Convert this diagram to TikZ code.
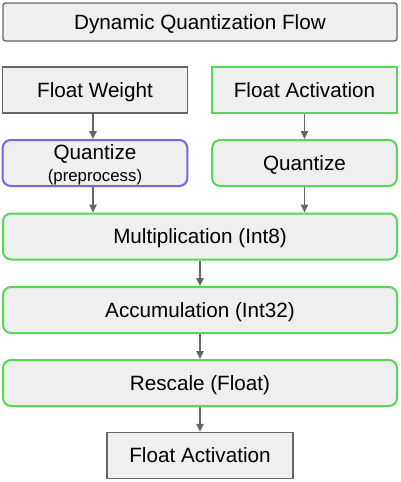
\documentclass[tikz,border=0pt]{standalone}
\usepackage{fontspec}
\setmainfont{Liberation Sans}
\usetikzlibrary{arrows.meta}
\definecolor{boxfill}{HTML}{EFEFEF}
\definecolor{boxgray}{HTML}{666666}
\definecolor{boxgreen}{HTML}{55D955}
\definecolor{boxpurple}{HTML}{7B63E6}
\begin{document}
\begin{tikzpicture}[x=0.75pt,y=-0.75pt]
		\tikzset{stage/.style={draw=boxgray,fill=boxfill,line width=1pt,inner sep=0pt,text depth=0pt,
				minimum height=34.5pt,font=\fontsize{15.5}{17}\selectfont,align=center}}
		\tikzset{wide/.style={minimum width=295.5pt}}
		\tikzset{half/.style={minimum width=138.5pt}}
		\tikzset{green/.style={draw=boxgreen,line width=1.5pt}}
		\tikzset{round/.style={rounded corners=6pt}}
		\tikzset{flow/.style={draw=boxgray,line width=1.2pt,-{Triangle[length=6pt,width=5.5pt]}}}
		\useasboundingbox[fill=white] (0,0) rectangle (400,482);
		\node[stage,wide,rounded corners=2pt,minimum height=28.5pt] (title) at (200,22) {Dynamic Quantization Flow};
		\node[stage,half] (weight) at (95,90) {Float Weight};
		\node[stage,half,green] (act) at (304.5,90) {Float Activation};
		\node[stage,half,round,draw=boxpurple,line width=1.5pt] (qweight) at (95,163)
			{Quantize\\[-1pt]{\fontsize{12.6}{14}\selectfont(preprocess)}};
		\node[stage,half,round,green] (qact) at (304.5,163) {Quantize};
		\node[stage,wide,round,green] (mult) at (200,236.5) {Multiplication (Int8)};
		\node[stage,wide,round,green] (accum) at (200,310) {Accumulation (Int32)};
		\node[stage,wide,round,green] (rescale) at (200,383) {Rescale (Float)};
		\node[stage,minimum width=139.5pt] (out) at (200,455.5) {Float Activation};
		\draw[flow] (weight.south -| 93,0) -- (qweight.north -| 93,0);
		\draw[flow] (act) -- (qact);
		\draw[flow] (qweight.south -| 93,0) -- (mult.north -| 93,0);
		\draw[flow] (qact) -- (qact |- mult.north);
		\draw[flow] (mult) -- (accum);
		\draw[flow] (accum) -- (rescale);
		\draw[flow] (rescale) -- (out);
\end{tikzpicture}
\end{document}
